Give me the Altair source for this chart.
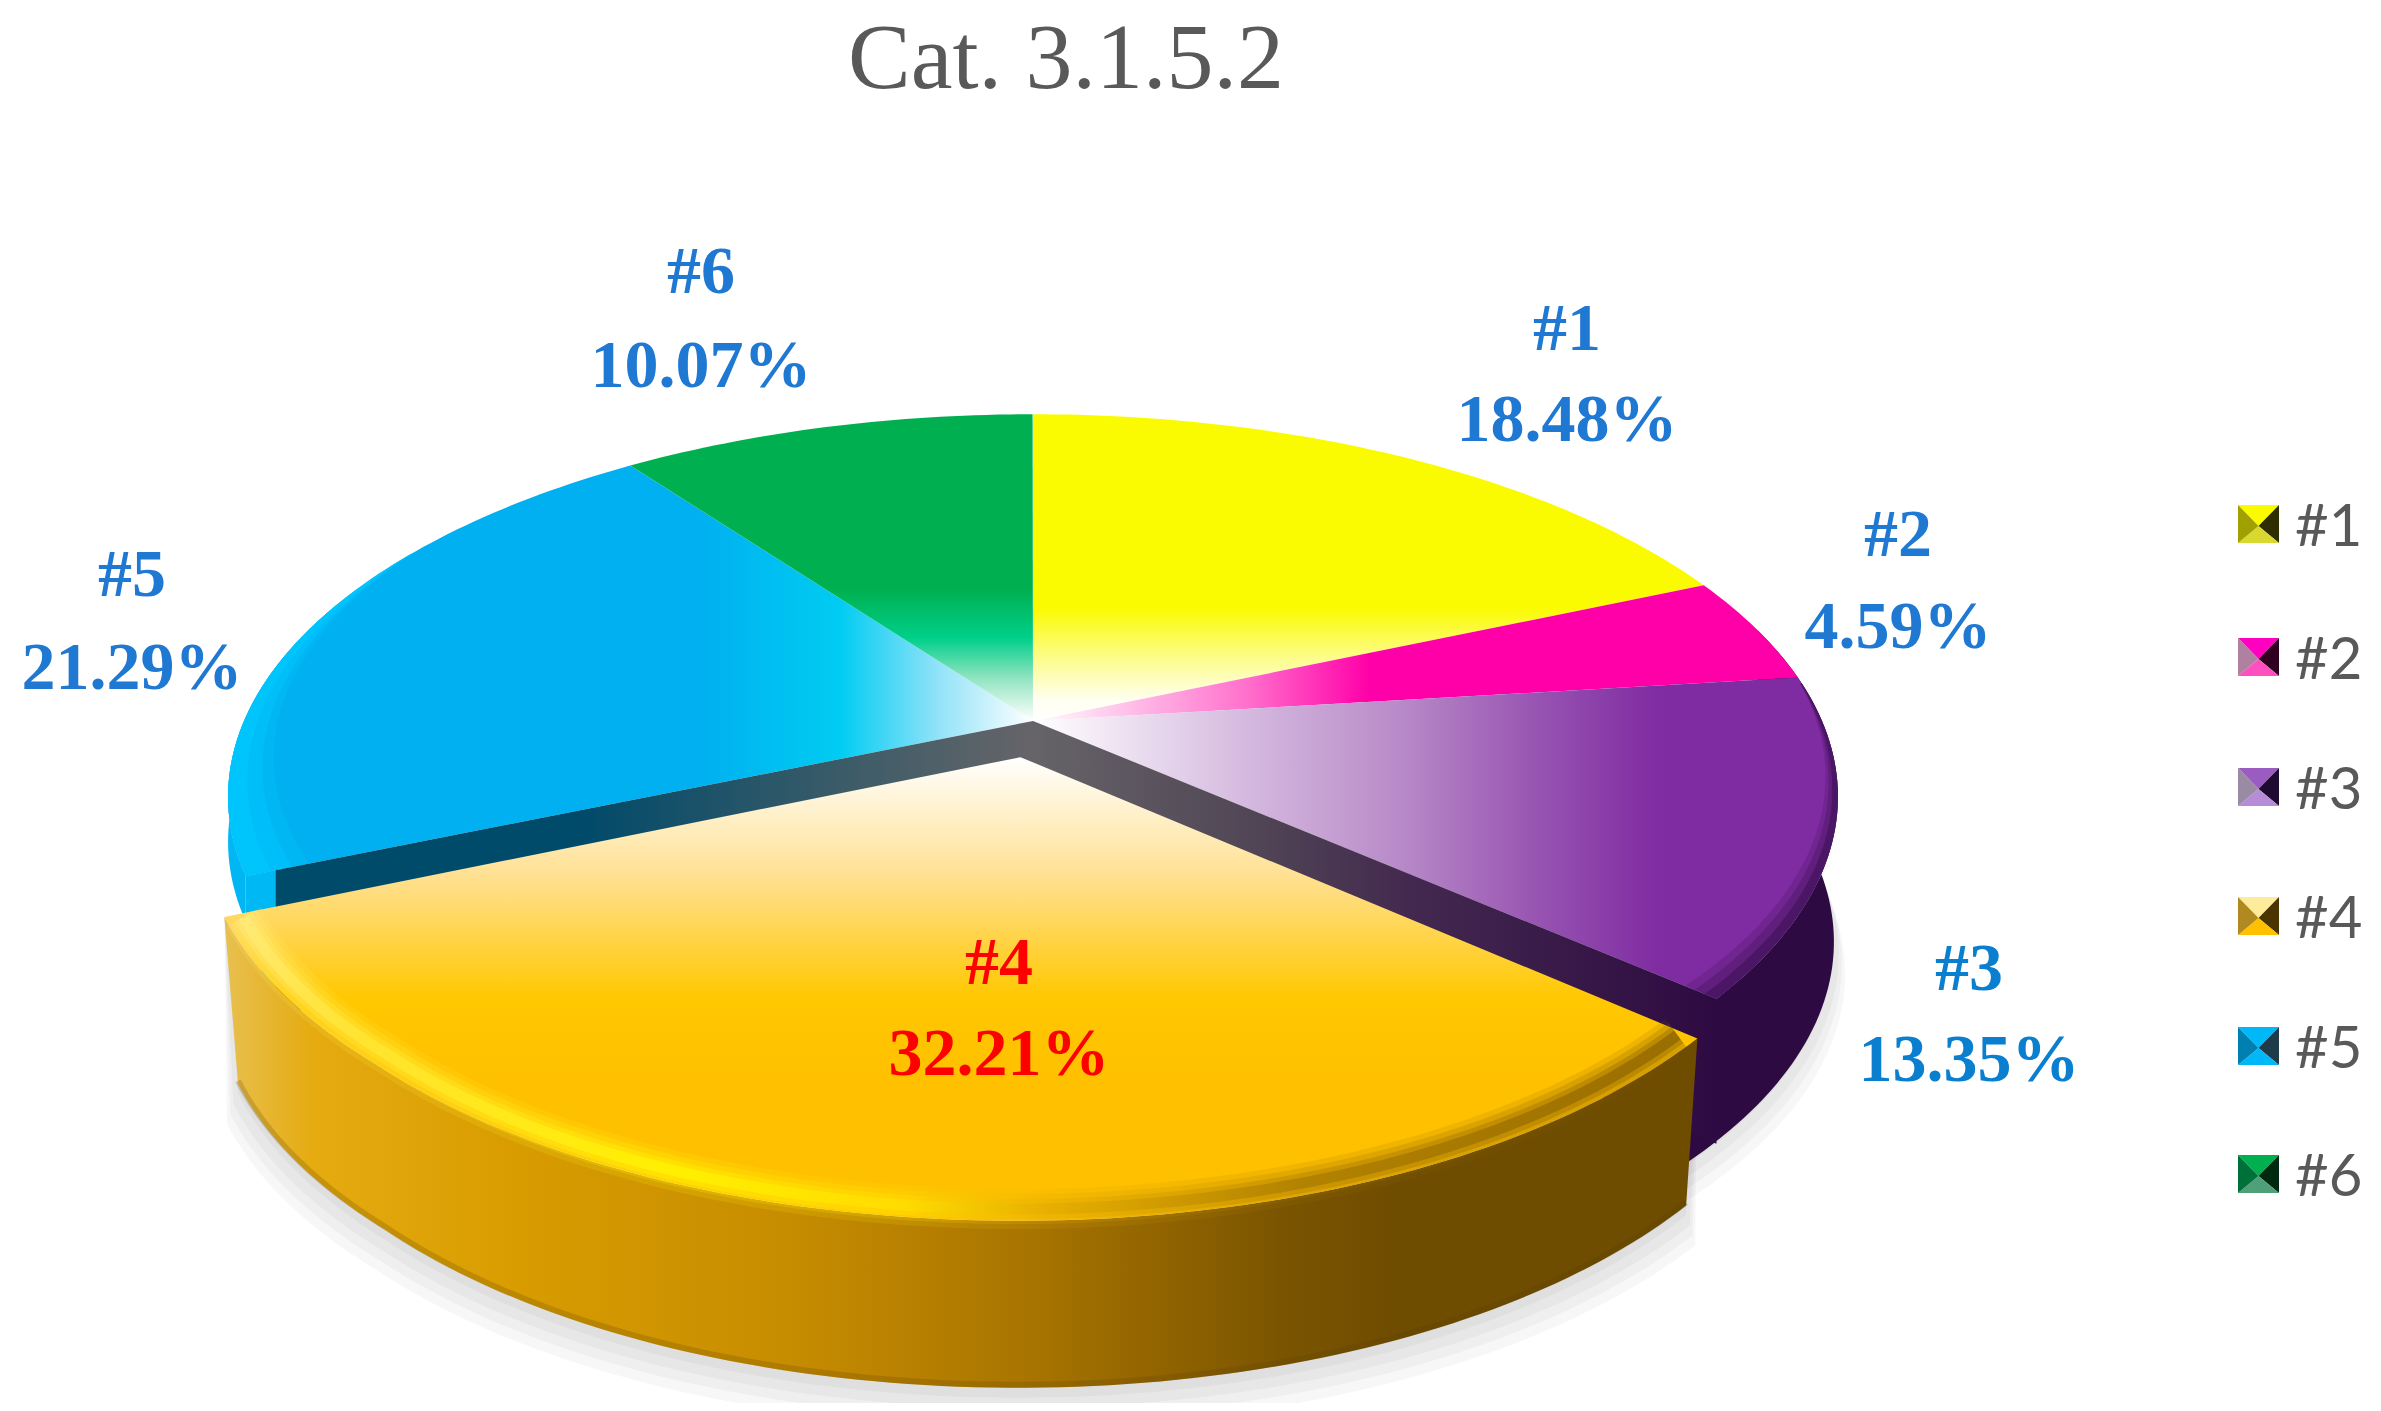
import math
import altair as alt
import pandas as pd

# ---- chart values ----
names = ["#1", "#2", "#3", "#4", "#5", "#6"]
shares = [18.48, 4.59, 13.35, 32.21, 21.29, 10.07]
base = ["#fafa00", "#ff00a8", "#7f2ba1", "#ffc000", "#00b0f0", "#00b050"]
label_x = [1567, 1898, 1969, 999, 132, 701]
label_y1 = [350, 556, 990, 984, 596, 293]
label_y2 = [441, 648, 1081, 1075, 689, 387]
label_col = ["#1f78d2", "#1f78d2", "#0a7fd0", "#ff0000", "#1f78d2", "#1f78d2"]
legend_y = [524, 657, 787, 916, 1046, 1174]
key_top = ["#fafa00", "#ff00c0", "#9a5cc0", "#ffeb9c", "#00b8f8", "#00b050"]
key_right = ["#2e2e00", "#300020", "#1f0a30", "#4a3500", "#1f3a48", "#002a10"]
key_bottom = ["#d8d830", "#ff50c0", "#b68cd6", "#ffc000", "#00b8f8", "#4f9f78"]
key_left = ["#a0a000", "#b080a0", "#9a8aa4", "#b08a20", "#0080b0", "#00703a"]
title_text = "Cat. 3.1.5.2"

# ---- view of the disc (perspective of the 3-D pie) ----
A, B, K, CX, CY = 789.0, 367.5, 0.198, 1033.0, 721.0
OU, OV = -0.0155, -0.0965   # pull-out of slice #4
R4 = 0.975
H = 167
H0 = 145

bounds = [0.0]
for s in shares:
    bounds.append(bounds[-1] + s * 3.6)


def P(t, r=1.0, ou=0.0, ov=0.0, scale=1.0, dy=0.0):
    a = math.radians(t)
    u = r * math.sin(a) + ou
    v = r * math.cos(a) + ov
    w = 1 + K * v
    return (CX + scale * A * u / w, CY - B * v / w + dy)


def arc(t0, t1, **kw):
    n = max(2, int(abs(t1 - t0)) + 1)
    return [P(t0 + (t1 - t0) * i / (n - 1), **kw) for i in range(n)]


def r4(t):
    return R4 + 0.015 * max(0.0, (t - 225.0) / 22.4)


def arc4(t0, t1, dr=0.0, scale=1.0, dy=0.0):
    n = int(abs(t1 - t0)) + 1
    out = []
    for i in range(n):
        tt = t0 + (t1 - t0) * i / (n - 1)
        out.append(P(tt, r=r4(tt) + dr, ou=OU, ov=OV, scale=scale, dy=dy))
    return out


def crescent(t0, t1, r_in0, r_in1, r_out=1.0):
    """Band along the rim whose inner radius runs from r_in0 at t0 to r_in1 at t1."""
    n = int(abs(t1 - t0)) + 1
    out = arc(t0, t1, r=r_out)
    back = []
    for i in range(n):
        f = i / (n - 1)
        back.append(P(t0 + (t1 - t0) * f, r=r_in0 + (r_in1 - r_in0) * f))
    return out + back[::-1]


X = alt.X("x:Q", axis=None, scale=alt.Scale(domain=[8, 2373], nice=False, zero=False))
Y = alt.Y("y:Q", axis=None, scale=alt.Scale(domain=[1403, 8], nice=False, zero=False))


def frame(pts):
    return pd.DataFrame({"x": [p[0] for p in pts], "y": [p[1] for p in pts], "i": range(len(pts))})


def grad(stops, horizontal=True):
    return alt.LinearGradient(
        gradient="linear",
        x1=0, y1=0, x2=1 if horizontal else 0, y2=0 if horizontal else 1,
        stops=[alt.GradientStop(color=c, offset=o) for o, c in stops],
    )


def poly(pts, fill, opacity=1.0):
    pts = list(pts) + [pts[0]]
    return alt.Chart(frame(pts)).mark_line(
        fill=fill, strokeWidth=0, strokeOpacity=0, fillOpacity=opacity
    ).encode(x=X, y=Y, order="i:Q")


def stroke(pts, colour, width, opacity=1.0):
    return alt.Chart(frame(pts)).mark_line(
        stroke=colour, strokeWidth=width, strokeOpacity=opacity, strokeCap="butt"
    ).encode(x=X, y=Y, order="i:Q")


def text(s, x, y, size, colour, font, weight="normal", align="center"):
    d = pd.DataFrame({"x": [x], "y": [y], "t": [s]})
    return alt.Chart(d).mark_text(
        fontSize=size, color=colour, font=font, fontWeight=weight, align=align, baseline="alphabetic"
    ).encode(x=X, y=Y, text="t:N")


apex = P(0, r=0)
apex4 = P(0, r=0, ou=OU, ov=OV)
t = bounds
layers = []

# soft ground shadow
for extra, grow in [(40, 1.014), (30, 1.01), (20, 1.006), (10, 1.0)]:
    layers.append(poly(arc4(t[3], t[4], scale=grow * 0.983, dy=H + extra) + arc4(t[4], t[3]), "#000000", 0.03))
    layers.append(poly(arc(60, t[3] + 5, scale=grow * 0.995, dy=H0 + extra - 8) + [apex], "#000000", 0.03))

# outer walls of the whole slices
layers.append(poly(arc(75, t[3] + 4) + arc(t[3] + 4, 75, scale=0.995, dy=H0), "#2e0a42"))
layers.append(poly(arc(t[4], 290) + arc(290, t[4], scale=1.0, dy=45),
                   grad([(0, "#00b8f4"), (1, "#00a8e8")])))

# top faces
tops = [
    grad([(0, base[0]), (0.63, base[0]), (0.78, "#fcfc80"), (0.93, "#fffff0"), (1, "#ffffff")], False),
    grad([(0, "#ffffff"), (0.28, "#ff70cc"), (0.44, base[1]), (1, base[1])]),
    grad([(0, "#ffffff"), (0.27, "#d4b8de"), (0.456, "#b88ac8"), (0.64, "#9550b0"), (0.78, base[2]), (1, base[2])]),
    None,
    grad([(0, base[4]), (0.586, base[4]), (0.76, "#00ccf2"), (0.88, "#8fe2f8"), (1, "#ffffff")]),
    grad([(0, base[5]), (0.57, base[5]), (0.73, "#00cf8a"), (0.86, "#90e4c0"), (1, "#ffffff")], False),
]
for j in [0, 1, 2, 4, 5]:
    layers.append(poly([apex] + arc(t[j], t[j + 1]), tops[j]))

# soft bevels on the back slices
for dr, op in [(0.04, 0.18), (0.028, 0.25), (0.015, 0.4)]:
    layers.append(poly(crescent(84, t[3], 0.998, 1 - dr), "#2e0a42", op))
for dr, op in [(0.075, 0.3), (0.055, 0.45), (0.03, 0.7)]:
    layers.append(poly(crescent(t[4], 300, 1 - dr, 0.999), "#00c8ff", op))

# cut walls exposed by the pulled-out slice
e3 = P(t[3], r=1.0)
e5 = P(t[4], r=0.965)
e5o = P(t[4], r=1.0)
layers.append(poly([e5, e5o, (e5o[0], e5o[1] + 45), (e5[0], e5[1] + H0)], "#00b8f4"))
layers.append(poly([apex, e3, (e3[0], e3[1] + H0), (apex[0], apex[1] + H0)],
                   grad([(0, "#666468"), (0.33, "#504555"), (0.55, "#43294f"), (1, "#2e0a42")])))
layers.append(poly([apex, e5, (e5[0], e5[1] + H0), (apex[0], apex[1] + H0)],
                   grad([(0, "#004a6a"), (0.4, "#004a6a"), (0.78, "#405d68"), (1, "#666468")])))

# slice #4: wall, top, rim
layers.append(poly(arc4(t[3], t[4]) + arc4(t[4], t[3], scale=0.983, dy=H),
                   grad([(0, "#e8c050"), (0.06, "#e5ab10"), (0.2, "#d89c00"), (0.38, "#c78d00"),
                         (0.55, "#a87400"), (0.72, "#7a5400"), (0.8, "#6e4c00"), (1, "#6e4c00")])))
layers.append(stroke(arc4(t[3], t[4], scale=0.983, dy=H - 3), "#5a3e00", 6, 0.22))
layers.append(poly([apex4] + arc4(t[3], t[4]),
                   grad([(0, "#ffffff"), (0.26, "#ffe090"), (0.52, "#ffc800"), (0.7, "#ffc000"), (1, "#ffc000")], False)))
rim = grad([(0, "#fff080"), (0.08, "#ffee40"), (0.3, "#ffff00"), (0.46, "#ffe400"), (0.56, "#e0aa00"),
            (0.74, "#9a6e00"), (1, "#7a5400")])
for width, op in [(40, 0.14), (30, 0.2), (20, 0.3), (11, 0.5)]:
    layers.append(stroke(arc4(t[3] + 0.5, t[4] - 0.5, dr=-0.02), rim, width, op))

# title and slice labels
layers.append(text(title_text, 1066, 88, 94, "#595959", "Liberation Serif"))
for j, n in enumerate(names):
    pct = f"{shares[j]:.2f}%"
    layers.append(text(n, label_x[j], label_y1[j], 68, label_col[j], "Liberation Serif", "bold"))
    layers.append(text(pct, label_x[j], label_y2[j], 68, label_col[j], "Liberation Serif", "bold"))

# legend keys
for j, n in enumerate(names):
    yc = legend_y[j]
    x0, x1, y0, y1 = 2238, 2279, yc - 19, yc + 19
    c = (x0 + x1) / 2, yc + 2
    layers.append(poly([(x0, y0), (x1, y0), c], key_top[j]))
    layers.append(poly([(x1, y0), (x1, y1), c], key_right[j]))
    layers.append(poly([(x0, y1), (x1, y1), c], key_bottom[j]))
    layers.append(poly([(x0, y0), (x0, y1), c], key_left[j]))
    layers.append(text(n, 2295, yc + 22, 58, "#595959", "Lato", align="left"))

chart = alt.layer(*layers).properties(
    width=2365, height=1395, padding=0, background="#ffffff", autosize=alt.AutoSizeParams(type="none")
).configure_view(stroke=None)

chart.save("out.html", embed_options={"renderer": "svg", "actions": False})
